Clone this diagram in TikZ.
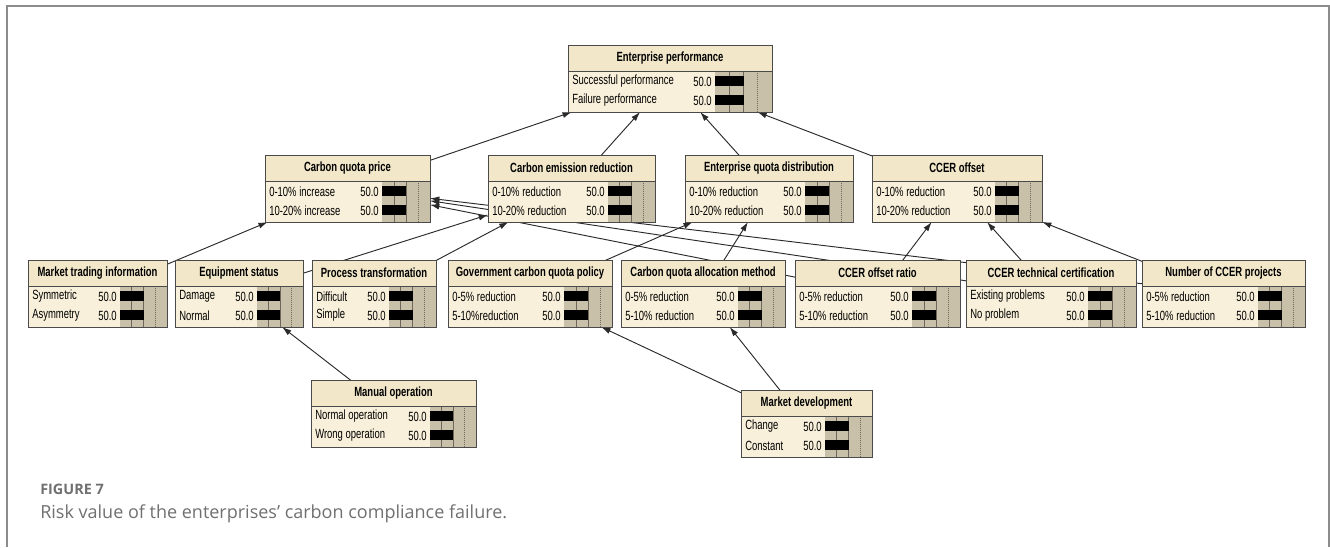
\documentclass[tikz,border=0pt]{standalone}
\usepackage{fontspec}
\usepackage{tikz}
\usetikzlibrary{arrows.meta,backgrounds}
\newfontfamily\bnfont[FakeStretch=0.71]{Liberation Sans}
\newfontfamily\capfont{Open Sans}
\definecolor{bnhead}{HTML}{F2E8C9}
\definecolor{bnbody}{HTML}{F8F0DA}
\definecolor{bnbar}{HTML}{C8C0A8}
\definecolor{bnedge}{HTML}{4A4A4A}
\definecolor{bngray}{HTML}{6E685C}
\definecolor{bnlink}{HTML}{2A2A2A}
\definecolor{capgray}{HTML}{707070}
\definecolor{framegray}{HTML}{8C8C8C}

% name, left, top, right, title, state 1, state 2, bar width
\newcommand{\bnnode}[8]{%
  \node[bnbox,minimum width={(#4-#2)*0.75pt},anchor=north west] (#1) at (#2,#3) {};
  \fill[bnhead] (#2,#3) rectangle (#4,#3+26);
  \fill[bnbar] (#4-#8,#3+26) rectangle (#4,#3+67);
  \draw[bngrid] (#4-#8*0.75,#3+26) -- (#4-#8*0.75,#3+67);
  \draw[bngrid] (#4-#8*0.5,#3+26) -- (#4-#8*0.5,#3+67);
  \draw[bngrid,densely dotted] (#4-#8*0.25,#3+26) -- (#4-#8*0.25,#3+67);
  \fill[black] (#4-#8,#3+31) rectangle (#4-#8/2,#3+41);
  \fill[black] (#4-#8,#3+50) rectangle (#4-#8/2,#3+60);
  \draw[draw=bnedge,line width=0.75pt] (#2,#3+26) -- (#4,#3+26);
  \draw[draw=bnedge,line width=0.75pt] (#1.north west) rectangle (#1.south east);
  \node[bntitle] (#1t) at ({(#2+#4)/2},#3+13) {#5};
  \node[bnstate,anchor=west] (#1a) at (#2+4,#3+36.5) {#6};
  \node[bnstate,anchor=west] (#1b) at (#2+4,#3+55.5) {#7};
  \node[bnstate,anchor=east] (#1va) at (#4-#8-3,#3+36.5) {50.0};
  \node[bnstate,anchor=east] (#1vb) at (#4-#8-3,#3+55.5) {50.0};
}

\begin{document}
\begin{tikzpicture}[x=0.75pt,y=-0.75pt,
  bnbox/.style={rectangle,fill=bnbody,inner sep=0pt,outer sep=0pt,minimum height=50.25pt},
  bntitle/.style={inner sep=0pt,font=\bnfont\bfseries\fontsize{10}{11}\selectfont},
  bnstate/.style={inner sep=0pt,font=\bnfont\fontsize{10}{11}\selectfont},
  bngrid/.style={draw=bngray,line width=0.5pt},
  lk/.style={draw=bnlink,line width=0.7pt,-{Latex[length=7pt,width=4.5pt]}},
  captext/.style={inner sep=0pt,anchor=base west,text=capgray}]
  \useasboundingbox (0,0) rectangle (1330,547);
  \draw[framegray,line width=1.2pt] (6.7,547) -- (6.7,5.8) -- (1329,5.8) -- (1329,547);

  \bnnode{ep}{568}{45}{772}{Enterprise performance}{Successful performance}{Failure performance}{57}
  \bnnode{cqp}{265}{155}{430}{Carbon quota price}{0-10\% increase}{10-20\% increase}{48}
  \bnnode{cer}{488}{155}{655}{Carbon emission reduction}{0-10\% reduction}{10-20\% reduction}{47}
  \bnnode{eqd}{685}{155}{853}{Enterprise quota distribution}{0-10\% reduction}{10-20\% reduction}{48}
  \bnnode{ccer}{872}{155}{1042}{CCER offset}{0-10\% reduction}{10-20\% reduction}{47}
  \bnnode{mti}{28}{260}{167}{Market trading information}{Symmetric}{Asymmetry}{47}
  \bnnode{es}{175}{260}{303}{Equipment status}{Damage}{Normal}{46}
  \bnnode{pt}{312}{260}{436}{Process transformation}{Difficult}{Simple}{47}
  \bnnode{gcqp}{448}{260}{612}{Government carbon quota policy}{0-5\% reduction}{5-10\%reduction}{48}
  \bnnode{cqam}{621}{260}{785}{Carbon quota allocation method}{0-5\% reduction}{5-10\% reduction}{47}
  \bnnode{off}{795}{260}{960}{CCER offset ratio}{0-5\% reduction}{5-10\% reduction}{48}
  \bnnode{tech}{966}{260}{1136}{CCER technical certification}{Existing problems}{No problem}{48}
  \bnnode{ncp}{1142}{260}{1305}{Number of CCER projects}{0-5\% reduction}{5-10\% reduction}{47}
  \bnnode{mo}{311}{380}{476}{Manual operation}{Normal operation}{Wrong operation}{46}
  \bnnode{md}{741}{390}{872}{Market development}{Change}{Constant}{47}

  \node[captext,font=\capfont\bfseries\fontsize{10.8}{12}\selectfont] (fig) at (40,494) {FIGURE 7};
  \node[captext,font=\capfont\fontsize{13.5}{16}\selectfont] (caption) at (40,518) {Risk value of the enterprises’ carbon compliance failure.};

  \begin{scope}[on background layer]
    \fill[white] (0,0) rectangle (1330,547);
    \draw[lk] (cqp.center) -- (ep);
    \draw[lk] (cer.center) -- (ep);
    \draw[lk] (eqd.center) -- (ep);
    \draw[lk] (ccer.center) -- (ep);
    \draw[lk] (mti.center) -- (cqp);
    \draw[lk] (off.center) -- (cqp);
    \draw[lk] (tech.center) -- (cqp);
    \draw[lk] (ncp.center) -- (cqp);
    \draw[lk] (es.center) -- (cer);
    \draw[lk] (pt.center) -- (cer);
    \draw[lk] (gcqp.center) -- (eqd);
    \draw[lk] (cqam.center) -- (eqd);
    \draw[lk] (off.center) -- (ccer);
    \draw[lk] (tech.center) -- (ccer);
    \draw[lk] (ncp.center) -- (ccer);
    \draw[lk] (mo.center) -- (es);
    \draw[lk] (md.center) -- (gcqp);
    \draw[lk] (md.center) -- (cqam);
  \end{scope}
\end{tikzpicture}
\end{document}
